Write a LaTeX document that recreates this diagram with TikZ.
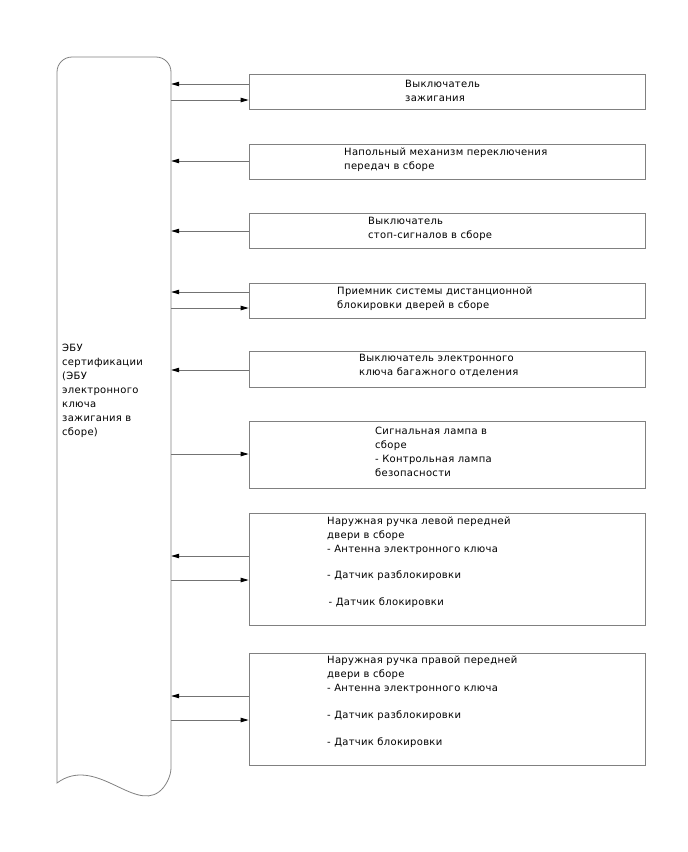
\documentclass[tikz,border=0pt]{standalone}
\usepackage{fontspec}
\setmainfont{DejaVu Sans}
\usetikzlibrary{arrows.meta, positioning, calc}

\begin{document}
\begin{tikzpicture}[
    x=1pt, y=-1pt,
    blk/.style={rectangle, draw=black!50, line width=0.8pt, minimum width=396pt, inner sep=0pt},
    lbl/.style={anchor=west, align=left, inner sep=0pt, font=\fontsize{10}{14}\selectfont\addfontfeatures{LetterSpace=3}},
    arw/.style={-{Triangle[length=8pt, width=4.5pt, black]}, draw=black!55, line width=0.8pt},
    bus/.style={draw=black!50, line width=0.8pt},
]
    \useasboundingbox (0,0) rectangle (688,852);

    % ECU column on the left
    \node[minimum width=114pt, minimum height=726pt, inner sep=0pt] (ecu) at (114,420) {};
    \draw[bus, rounded corners=15pt] (57,783) -- (57,57) -- (171,57) -- (171,783)
        [sharp corners] .. controls (133,811) and (95,755) .. cycle;
    \node[lbl] (ecutxt) at (62,391) {ЭБУ\\сертификации\\(ЭБУ\\электронного\\ключа\\зажигания в\\сборе)};

    % Blocks on the right
    \node[blk, minimum height=35pt]  (b1) at (447,91.5) {};
    \node[blk, minimum height=35pt]  (b2) at (447,161.5) {};
    \node[blk, minimum height=35pt]  (b3) at (447,230.5) {};
    \node[blk, minimum height=35pt]  (b4) at (447,300.5) {};
    \node[blk, minimum height=36pt]  (b5) at (447,369) {};
    \node[blk, minimum height=67pt]  (b6) at (447,454.5) {};
    \node[blk, minimum height=112pt] (b7) at (447,569) {};
    \node[blk, minimum height=112pt] (b8) at (447,709) {};

    \node[lbl] (t1) at (405,90.5) {Выключатель\\зажигания};
    \node[lbl] (t2) at (344,160) {Напольный механизм переключения\\передач в сборе};
    \node[lbl] (t3) at (368,228.5) {Выключатель\\стоп-сигналов в сборе};
    \node[lbl] (t4) at (337,299) {Приемник системы дистанционной\\блокировки дверей в сборе};
    \node[lbl] (t5) at (359,365.5) {Выключатель электронного\\ключа багажного отделения};
    \node[lbl] (t6) at (375,451.5) {Сигнальная лампа в\\сборе\\- Контрольная лампа\\безопасности};
    \node[lbl] (t7) at (327,562) {Наружная ручка левой передней\\двери в сборе\\- Антенна электронного ключа\\[12pt]- Датчик разблокировки\\[13pt]\hspace{1.5pt}- Датчик блокировки};
    \node[lbl] (t8) at (327,702) {Наружная ручка правой передней\\двери в сборе\\- Антенна электронного ключа\\[13pt]- Датчик разблокировки\\[13pt]- Датчик блокировки};

    % Signals between blocks and ECU
    \draw[arw] (b1.west |- 0,84)  -- (ecu.east |- 0,84);
    \draw[arw] (ecu.east |- 0,100) -- (b1.west |- 0,100);
    \draw[arw] (b2.west |- 0,161) -- (ecu.east |- 0,161);
    \draw[arw] (b3.west |- 0,231) -- (ecu.east |- 0,231);
    \draw[arw] (b4.west |- 0,292) -- (ecu.east |- 0,292);
    \draw[arw] (ecu.east |- 0,308) -- (b4.west |- 0,308);
    \draw[arw] (b5.west |- 0,370) -- (ecu.east |- 0,370);
    \draw[arw] (ecu.east |- 0,454) -- (b6.west |- 0,454);
    \draw[arw] (b7.west |- 0,556) -- (ecu.east |- 0,556);
    \draw[arw] (ecu.east |- 0,580) -- (b7.west |- 0,580);
    \draw[arw] (b8.west |- 0,696) -- (ecu.east |- 0,696);
    \draw[arw] (ecu.east |- 0,720) -- (b8.west |- 0,720);
\end{tikzpicture}
\end{document}
